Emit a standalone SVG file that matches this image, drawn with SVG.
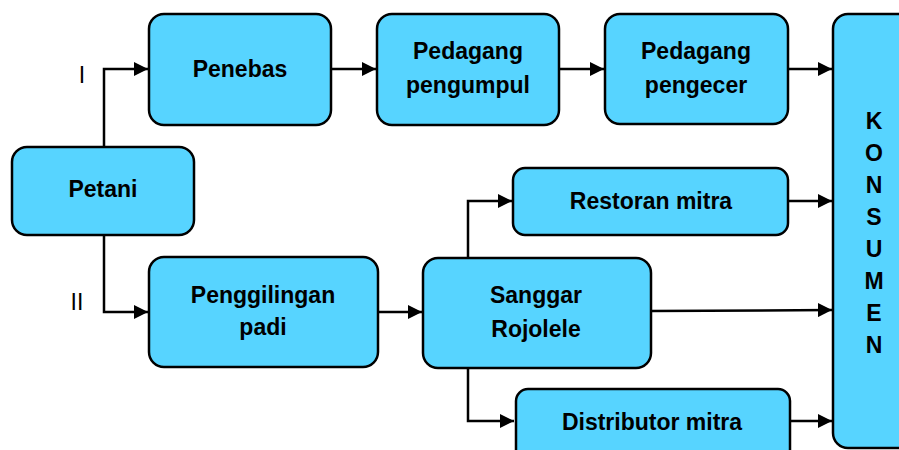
<svg xmlns="http://www.w3.org/2000/svg" width="899" height="450" viewBox="0 0 899 450">
<style>
.box{fill:#57d4ff;stroke:#000;stroke-width:2.5}
.t{font-family:"Liberation Sans",Arial,sans-serif;font-weight:bold;font-size:23px;text-anchor:middle;fill:#000}
.k{font-family:"Liberation Sans",Arial,sans-serif;font-weight:bold;font-size:23px;text-anchor:middle;fill:#000}
.lbl{font-family:"Liberation Sans",Arial,sans-serif;font-size:23px;text-anchor:middle;fill:#000}
.c{fill:none;stroke:#000;stroke-width:2.5}
</style>
<defs>
<marker id="ah" markerWidth="14" markerHeight="14" refX="14" refY="7" orient="auto" markerUnits="userSpaceOnUse">
<path d="M0,0 L14,7 L0,14 Z" fill="#000"/>
</marker>
</defs>
<rect width="899" height="450" fill="#fff"/>
<g id="connectors">
<polyline class="c" points="104,147 104,69 148,69" marker-end="url(#ah)"/>
<polyline class="c" points="104,235 104,312 148,312" marker-end="url(#ah)"/>
<line class="c" x1="331" y1="69" x2="376" y2="69" marker-end="url(#ah)"/>
<line class="c" x1="559" y1="69" x2="604" y2="69" marker-end="url(#ah)"/>
<line class="c" x1="788" y1="69" x2="832" y2="69" marker-end="url(#ah)"/>
<line class="c" x1="788" y1="201" x2="832" y2="201" marker-end="url(#ah)"/>
<line class="c" x1="378" y1="312" x2="422" y2="312" marker-end="url(#ah)"/>
<line class="c" x1="651" y1="311" x2="832" y2="310" marker-end="url(#ah)"/>
<polyline class="c" points="468,258 468,201 512,201" marker-end="url(#ah)"/>
<polyline class="c" points="468,368 468,421 514,421" marker-end="url(#ah)"/>
<line class="c" x1="790" y1="421" x2="832" y2="421" marker-end="url(#ah)"/>
<text class="lbl" x="82" y="83">I</text>
<text class="lbl" x="77" y="310">II</text>
</g>
<g id="petani">
<rect class="box" x="12" y="147" width="182" height="88" rx="15"/>
<text class="t" x="103" y="197">Petani</text>
</g>
<g id="penebas">
<rect class="box" x="149" y="14" width="182" height="111" rx="15"/>
<text class="t" x="240" y="77">Penebas</text>
</g>
<g id="pedagang-pengumpul">
<rect class="box" x="377" y="14" width="182" height="111" rx="15"/>
<text class="t" x="468" y="59">Pedagang</text>
<text class="t" x="468" y="93">pengumpul</text>
</g>
<g id="pedagang-pengecer">
<rect class="box" x="605" y="14" width="183" height="110" rx="15"/>
<text class="t" x="696" y="59">Pedagang</text>
<text class="t" x="696" y="93">pengecer</text>
</g>
<g id="konsumen">
<rect class="box" x="833" y="14" width="90" height="434" rx="15"/>
<text class="k" x="874" y="129">K</text>
<text class="k" x="874" y="161">O</text>
<text class="k" x="874" y="193">N</text>
<text class="k" x="874" y="225">S</text>
<text class="k" x="874" y="257">U</text>
<text class="k" x="874" y="289">M</text>
<text class="k" x="874" y="321">E</text>
<text class="k" x="874" y="353">N</text>
</g>
<g id="restoran-mitra">
<rect class="box" x="513" y="168" width="275" height="67" rx="12"/>
<text class="t" x="651" y="209">Restoran mitra</text>
</g>
<g id="penggilingan-padi">
<rect class="box" x="149" y="257" width="229" height="110" rx="15"/>
<text class="t" x="263" y="303">Penggilingan</text>
<text class="t" x="263" y="335">padi</text>
</g>
<g id="sanggar-rojolele">
<rect class="box" x="423" y="258" width="228" height="110" rx="15"/>
<text class="t" x="536" y="303">Sanggar</text>
<text class="t" x="536" y="337">Rojolele</text>
</g>
<g id="distributor-mitra">
<rect class="box" x="516" y="389" width="274" height="75" rx="12"/>
<text class="t" x="652" y="430">Distributor mitra</text>
</g>
</svg>
